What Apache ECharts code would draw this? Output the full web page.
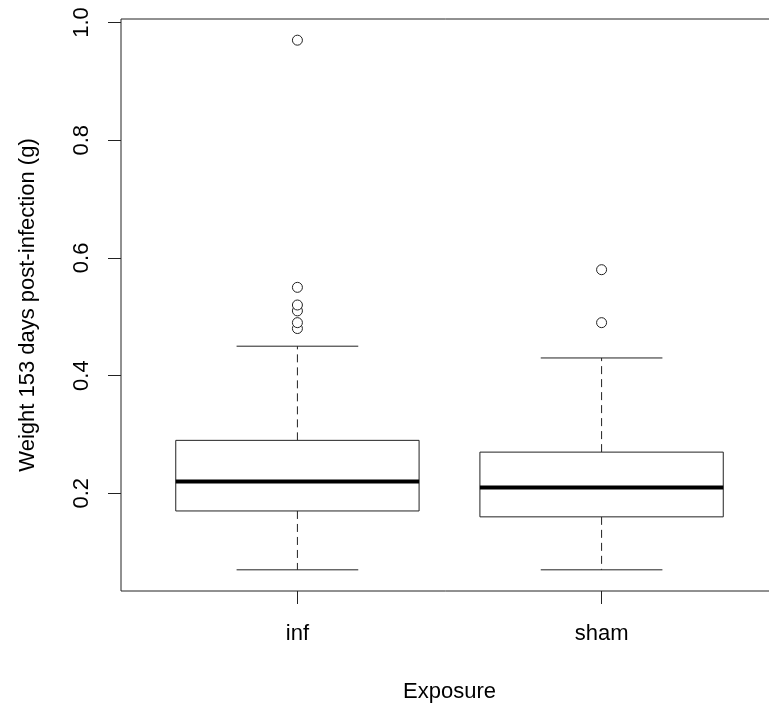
<!DOCTYPE html>
<html><head><meta charset="utf-8">
<script src="https://cdn.jsdelivr.net/npm/echarts@6/dist/echarts.min.js"></script>
<style>html,body{margin:0;padding:0;background:#fff}#c{width:769px;height:706px}</style>
</head><body><div id="c"></div>
<script>
const categories = ['inf', 'sham'];
const lowerWhisker = [0.07, 0.07];
const q1 = [0.17, 0.16];
const median = [0.22, 0.21];
const q3 = [0.29, 0.27];
const upperWhisker = [0.45, 0.43];
const outliersInf = [0.48, 0.49, 0.51, 0.52, 0.55, 0.97];
const outliersSham = [0.49, 0.58];
const yTicks = [0.2, 0.4, 0.6, 0.8, 1.0];
const xTicks = [1, 2];

const FONT = "'Liberation Sans', Arial, sans-serif";
const allVals = lowerWhisker.concat(upperWhisker, outliersInf, outliersSham);
const vmin = Math.min.apply(null, allVals), vmax = Math.max.apply(null, allVals);
const pad = (vmax - vmin) * 0.04;

const boxData = categories.map((c, i) => [i + 1, lowerWhisker[i], q1[i], median[i], q3[i], upperWhisker[i]]);
const outlierData = [];
outliersInf.forEach(v => outlierData.push([1, v]));
outliersSham.forEach(v => outlierData.push([2, v]));

const chart = echarts.init(document.getElementById('c'), null, {renderer: 'canvas'});
chart.setOption({
  animation: false,
  backgroundColor: '#fff',
  grid: {left: 121, top: 19, width: 657, height: 572, outerBoundsMode: 'none', containLabel: false,
    show: true, borderColor: '#222', borderWidth: 1, backgroundColor: 'transparent'},
  xAxis: {
    type: 'value', min: 0.42, max: 2.58,
    name: 'Exposure', nameLocation: 'middle', nameGap: 90,
    nameTextStyle: {fontFamily: FONT, fontSize: 22, color: '#000'},
    axisLine: {show: false},
    axisTick: {show: true, length: 13, inside: false, customValues: xTicks, lineStyle: {color: '#222'}},
    axisLabel: {customValues: xTicks, fontFamily: FONT, fontSize: 22, color: '#000', margin: 32,
      formatter: v => categories[Math.round(v) - 1] || ''},
    splitLine: {show: false}
  },
  yAxis: {
    type: 'value', min: vmin - pad, max: vmax + pad,
    name: 'Weight 153 days post-infection (g)', nameLocation: 'middle', nameGap: 82,
    nameTextStyle: {fontFamily: FONT, fontSize: 22, color: '#000'},
    axisLine: {show: false},
    axisTick: {show: true, length: 13, inside: false, customValues: yTicks, lineStyle: {color: '#222'}},
    axisLabel: {customValues: yTicks, rotate: 90, fontFamily: FONT, fontSize: 22, color: '#000', margin: 28,
      formatter: v => v.toFixed(1)},
    splitLine: {show: false}
  },
  series: [
    {
      type: 'custom',
      data: boxData,
      encode: {x: 0, y: [1, 2, 3, 4, 5]},
      renderItem: function (params, api) {
        const x = api.value(0);
        const lo = api.value(1), a = api.value(2), m = api.value(3), b = api.value(4), hi = api.value(5);
        const hw = 0.4, cw = 0.2;
        const pL = api.coord([x - hw, b]), pR = api.coord([x + hw, a]);
        const pc = api.coord([x, m]);
        const pLo = api.coord([x, lo]), pHi = api.coord([x, hi]);
        const pA = api.coord([x, a]), pB = api.coord([x, b]);
        const cL = api.coord([x - cw, 0])[0], cR = api.coord([x + cw, 0])[0];
        const ln = {stroke: '#222', lineWidth: 1, fill: null};
        const dash = {stroke: '#222', lineWidth: 1, lineDash: [8, 5]};
        return {
          type: 'group',
          children: [
            {type: 'line', shape: {x1: pc[0], y1: pB[1], x2: pc[0], y2: pHi[1]}, style: dash},
            {type: 'line', shape: {x1: pc[0], y1: pA[1], x2: pc[0], y2: pLo[1]}, style: dash},
            {type: 'line', shape: {x1: cL, y1: pHi[1], x2: cR, y2: pHi[1]}, style: ln},
            {type: 'line', shape: {x1: cL, y1: pLo[1], x2: cR, y2: pLo[1]}, style: ln},
            {type: 'rect', shape: {x: pL[0], y: pL[1], width: pR[0] - pL[0], height: pR[1] - pL[1]}, style: {stroke: '#222', lineWidth: 1, fill: '#fff'}},
            {type: 'line', shape: {x1: pL[0], y1: pc[1], x2: pR[0], y2: pc[1]}, style: {stroke: '#000', lineWidth: 4}}
          ]
        };
      }
    },
    {
      type: 'scatter',
      data: outlierData,
      symbol: 'circle',
      symbolSize: 10,
      itemStyle: {color: '#fff', borderColor: '#222', borderWidth: 1, opacity: 1}
    }
  ]
});
</script></body></html>
